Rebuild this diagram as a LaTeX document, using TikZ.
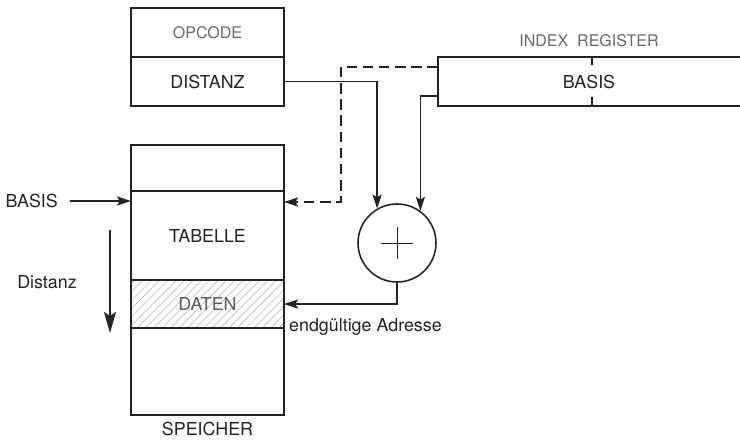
\documentclass[tikz,border=0pt]{standalone}
\usepackage{fontspec}
\setmainfont{TeX Gyre Heros}
\usetikzlibrary{positioning}
\usetikzlibrary{calc}
\usetikzlibrary{arrows.meta}
\usetikzlibrary{patterns.meta}
\definecolor{ink}{RGB}{35,35,35}
\definecolor{faint}{RGB}{105,105,105}

\begin{document}
\begin{tikzpicture}[x=0.025cm, y=-0.025cm, color=ink, line width=1.1pt,
    >={Stealth[length=10pt,width=6.5pt,inset=2pt]},
    cell/.style={rectangle, draw, minimum width=3.825cm, inner sep=0pt, outer sep=0pt, font=\fontsize{12.7}{14}\selectfont},
    lbl/.style={font=\fontsize{12.7}{14}\selectfont, inner sep=1pt},
    thin lbl/.style={font=\fontsize{11.4}{13}\selectfont, text=faint, inner sep=1pt}]

    \useasboundingbox (0,0) rectangle (740,440);

    % Befehl
    \node[cell, minimum height=1.225cm, thin lbl] (opcode) at (207.5,32.5) {OPCODE};
    \node[cell, minimum height=1.225cm, below=0pt of opcode] (distanz) {DISTANZ};

    % Speicher
    \node[cell, minimum height=1.15cm] (mtop) at (207.5,168) {};
    \node[cell, minimum height=2.225cm, below=0pt of mtop] (tabelle) {TABELLE};
    \node[cell, minimum height=1.2cm, below=0pt of tabelle, text=faint!80!ink,
        pattern={Lines[angle=45, distance=4.2pt, line width=0.35pt]}, pattern color=faint!55] (daten) {DATEN};
    \node[cell, minimum height=2.175cm, below=0pt of daten] (mbot) {};
    \node[lbl, below=3.5pt of mbot] (speicher) {SPEICHER};

    % Indexregister
    \node[lbl, minimum width=7.55cm, minimum height=1.225cm, inner sep=0pt, outer sep=0pt] (idx) at (589,81.5) {BASIS};
    \draw (idx.north east) -- (idx.north west) -- (idx.south west) -- (idx.south east);
    \draw (idx.north) ++(3,0) -- ++(0,8);
    \draw (idx.south) ++(3,0) -- ++(0,-9);
    \node[thin lbl, above=5.4pt of idx] (idxname) {INDEX\ \ REGISTER};

    % Addierer
    \node[circle, draw, minimum size=1.95cm, inner sep=0pt] (adder) at (397,243) {};
    \draw[line width=0.7pt] (adder.center) ++(-16,0) -- ++(32,0);
    \draw[line width=0.7pt] (adder.center) ++(0,-16) -- ++(0,32);

    % Verbindungen
    \coordinate (idxa) at ($(idx.west)!0.6!(idx.north west)$);
    \coordinate (idxb) at ($(idx.west)!0.6!(idx.south west)$);
    \coordinate (basel) at ($(tabelle.north west)+(0,10)$);
    \coordinate (baser) at ($(tabelle.north east)+(0,11)$);

    \draw[->] (distanz.east) -| (adder.120);
    \draw[->] (idxb) -| (adder.54);
    \draw[->, dash pattern=on 7.5pt off 4pt] (idxa) -| ($(baser)+(57,0)$) -- (baser);
    \draw[->] (adder.south) |- (daten.east);

    % Beschriftungen
    \node[lbl, anchor=east] (basis) at (60,201) {BASIS};
    \draw[->] ([xshift=7pt]basis.east) -- (basel);

    \node[lbl] (distlbl) at (47,282) {Distanz};
    \coordinate (dtop) at (110,230);
    \coordinate (dbot) at (110,333);
    \draw[-{Stealth[length=15pt,width=8.5pt,inset=3pt]}, line width=1.5pt] (dtop) -- (dbot);

    \node[lbl, anchor=west] (adresse) at ($(daten.south east)+(3,-1)$) {endgültige Adresse};
\end{tikzpicture}
\end{document}
